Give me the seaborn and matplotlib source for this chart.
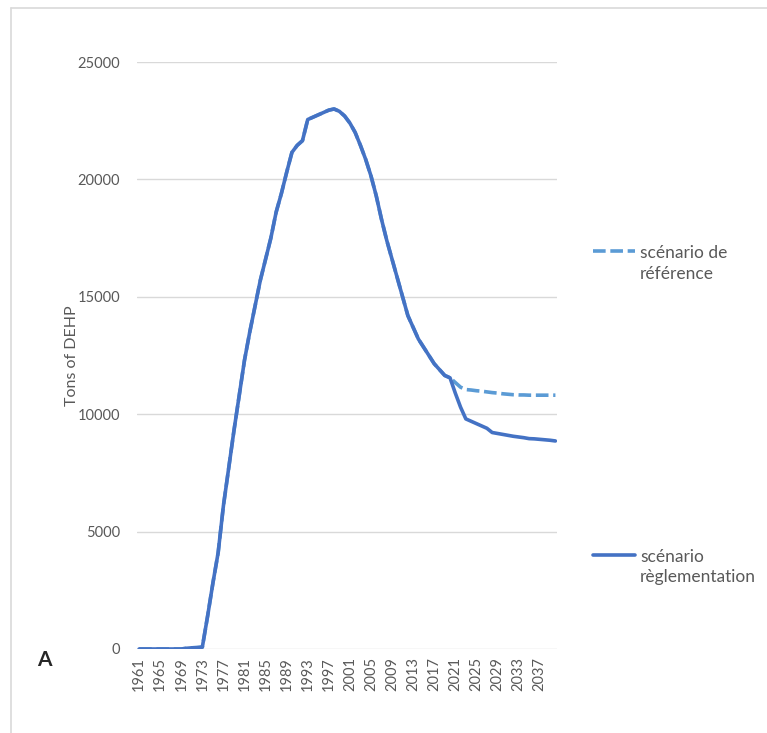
import matplotlib
matplotlib.use("Agg")
import matplotlib.pyplot as plt
import matplotlib.lines as mlines
from matplotlib.offsetbox import HPacker
import pandas as pd
import seaborn as sns

# data
years = list(range(1961, 2041))
history = [0, 0, 0, 0, 0, 0, 0, 0, 0, 30, 50, 60, 80,               # 1961-1973
           1400, 2800, 4100, 6100, 7700, 9300, 10800, 12300,         # 1974-1981
           13500, 14600, 15700, 16600, 17500, 18600, 19400, 20300,   # 1982-1989
           21150, 21450, 21650, 22550, 22650, 22750, 22850, 22950,   # 1990-1997
           23000, 22900, 22700, 22400, 22000, 21450, 20850, 20150,   # 1998-2005
           19300, 18300, 17400, 16600, 15800, 15000, 14200, 13700,   # 2006-2013
           13200, 12850, 12500, 12150, 11900, 11650, 11550]          # 2014-2020
proj_reference = [11350, 11150, 11050, 11030, 11000, 10980, 10950, 10920, 10900, 10870,
                  10850, 10830, 10820, 10820, 10810, 10810, 10810, 10810, 10810, 10810]
proj_regulation = [10900, 10300, 9800, 9700, 9600, 9500, 9400, 9220, 9180, 9140,
                   9100, 9060, 9030, 9000, 8960, 8950, 8930, 8910, 8890, 8860]
series_names = ["scénario de référence", "scénario règlementation"]
legend_labels = ["scénario de\nréférence", "scénario\nrèglementation"]
tick_years = list(range(1961, 2041, 4))

df = pd.DataFrame({
    "year": years * 2,
    "tons": history + proj_reference + history + proj_regulation,
    "scenario": [series_names[0]] * len(years) + [series_names[1]] * len(years),
})

sns.set_style("white")
plt.rcParams["font.family"] = ["Lato", "DejaVu Sans"]

grey_text = "#595959"
colors = {series_names[0]: "#5B9BD5", series_names[1]: "#4472C4"}

fig = plt.figure(figsize=(7.67, 7.33), dpi=100)
ax = fig.add_axes([0.1786, 0.1146, 0.5476, 0.8008])

sns.lineplot(data=df, x="year", y="tons", hue="scenario", style="scenario",
             palette=colors, dashes={series_names[0]: (3.5, 1.3), series_names[1]: ""},
             linewidth=2.6, ax=ax, legend=False)
ax.lines[0].set_zorder(2)
ax.lines[1].set_zorder(3)

ax.set_xlim(1960.6, 2040.3)
ax.set_ylim(0, 25000)
ax.set_yticks(range(0, 25001, 5000))
ax.set_xticks(tick_years)
ax.set_xticklabels([str(y) for y in tick_years], rotation=90)
ax.tick_params(axis="both", length=0, labelsize=10.5, labelcolor=grey_text)
ax.tick_params(axis="y", pad=12)
ax.tick_params(axis="x", pad=6)
ax.grid(axis="y", color="#D9D9D9", linewidth=1)
ax.set_axisbelow(True)
for s in ax.spines.values():
    s.set_visible(False)
ax.set_xlabel("")
ax.set_ylabel("Tons of DEHP", color=grey_text, fontsize=11.5, labelpad=-1)

# legend entries spread down the right side, as in the original
h_ref = mlines.Line2D([], [], color=colors[series_names[0]], lw=2.6, dashes=(3.5, 1.3))
h_reg = mlines.Line2D([], [], color=colors[series_names[1]], lw=2.6)
for handle, label, y in [(h_ref, legend_labels[0], 0.687), (h_reg, legend_labels[1], 0.273)]:
    leg = fig.legend(handles=[handle], labels=[label], loc="upper left",
                     bbox_to_anchor=(0.753, y), frameon=False, fontsize=12.5,
                     labelcolor=grey_text, handlelength=2.4, handletextpad=0.3)
    for t in leg.get_texts():
        t.set_linespacing(1.35)
    for hp in leg.findobj(HPacker):
        hp.align = "top"

fig.text(0.058, 0.1, "A", fontsize=15, fontweight="bold", ha="center", va="center")

# light frame on the top and left, like the cropped chart area
fig.add_artist(mlines.Line2D([0.0143, 0.0143], [0, 0.989], color="#D9D9D9", lw=1.2))
fig.add_artist(mlines.Line2D([0.0143, 1], [0.989, 0.989], color="#D9D9D9", lw=1.2))

fig.savefig("out.png", dpi=100)
